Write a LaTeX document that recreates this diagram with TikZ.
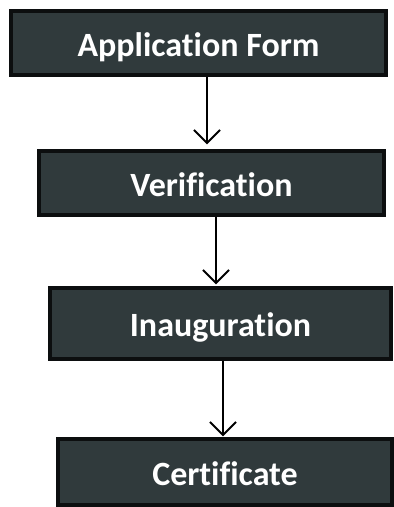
\documentclass[tikz,border=0pt]{standalone}
\usepackage{fontspec}
\setmainfont[Ligatures=NoCommon]{Carlito}
\usepackage{tikz}
\usetikzlibrary{arrows.meta, positioning, calc}
\usepackage{xcolor}
\definecolor{boxfill}{RGB}{48,58,60}
\definecolor{boxedge}{RGB}{12,14,15}

\begin{document}
\begin{tikzpicture}[x=1pt, y=1pt,
  stage/.style={draw=boxedge, line width=3.5pt, fill=boxfill, text=white,
    font=\bfseries\fontsize{34}{38}\selectfont, inner sep=0pt,
    text height=27pt, text depth=1pt},
  flow/.style={-{Straight Barb[length=13pt, width=26pt, line width=1.8pt]}, line width=1.8pt, black}]
  \useasboundingbox (0,0) rectangle (394,-507);
  % stages
  \node[stage, minimum width=375pt, minimum height=64pt] (app) at (198.5,-43) {Application Form};
  \node[stage, minimum width=345pt, minimum height=64pt] (ver) at (211.5,-183) {Verification};
  \node[stage, minimum width=341pt, minimum height=71pt] (ina) at (220.5,-323.5) {Inauguration};
  \node[stage, minimum width=334pt, minimum height=66pt] (cer) at (225,-472) {Certificate};
  % arrows
  \draw[flow, shorten >=5pt] ($(app.south)+(8.5,0)$) -- ($(ver.north)+(-4.5,0)$);
  \draw[flow, shorten >=2pt] ($(ver.south)+(4.5,0)$) -- ($(ina.north)+(-4.5,0)$);
  \draw[flow, shorten >=1pt] ($(ina.south)+(2.5,0)$) -- ($(cer.north)+(-2,0)$);
\end{tikzpicture}
\end{document}
